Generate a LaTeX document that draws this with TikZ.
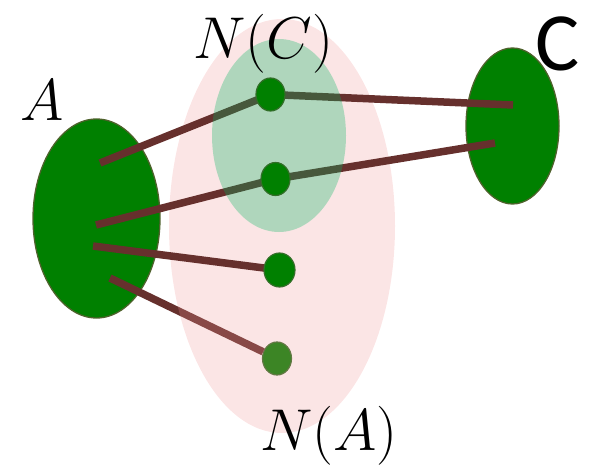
\RequirePackage{fix-cm}
\documentclass[tikz,border=0pt]{standalone}
\usepackage{fontspec}
\newfontfamily\labelfont{Carlito}
\usetikzlibrary{shapes.geometric}
\definecolor{setgreen}{RGB}{0,128,0}
\definecolor{setrim}{RGB}{78,98,44}
\definecolor{vertrim}{RGB}{50,110,40}
\definecolor{edgebrown}{RGB}{102,48,45}
\definecolor{nbpink}{RGB}{240,150,150}
\definecolor{nbgreen}{RGB}{0,183,97}
\tikzset{
  bigset/.style={ellipse, draw=setrim, line width=1.3pt, fill=setgreen, inner sep=0pt},
  vert/.style={ellipse, draw=vertrim, line width=1.2pt, fill=setgreen, minimum width=29pt, minimum height=33pt, inner sep=0pt},
  nbhd/.style={ellipse, inner sep=0pt},
  link/.style={draw=edgebrown, line width=7.5pt},
  setlabel/.style={inner sep=0pt, font=\fontsize{59}{59}\selectfont}
}

\begin{document}
\begin{tikzpicture}[x=1pt, y=-1pt]
\useasboundingbox (0,0) rectangle (593,470);
% the two sets
\node[bigset, minimum width=127pt, minimum height=199pt] (A) at (96.5,218.5) {};
\node[bigset, minimum width=93pt, minimum height=156pt] (C) at (512.5,126) {};
% where the edges leave the sets
\coordinate (a1) at (100,163);
\coordinate (a2) at (96,225);
\coordinate (a3) at (93,246);
\coordinate (a4) at (110,278);
\coordinate (c1) at (513,105);
\coordinate (c2) at (495,143);
\coordinate (p1) at (270.5,94.5);
\coordinate (p2) at (275.5,179);
\coordinate (p3) at (279.5,270);
% lowest vertex sits under the pink set
\node[vert] (v4) at (277,358.5) {};
\draw[link] (a4) -- (v4);
\node[nbhd, fill=nbpink, fill opacity=0.25, minimum width=226pt, minimum height=414pt] (NA) at (282,226) {};
\draw[link] (a1) -- (p1);
\draw[link] (a2) -- (p2);
\draw[link] (a3) -- (p3);
\draw[link] (p1) -- (c1);
\draw[link] (p2) -- (c2);
\node[nbhd, fill=nbgreen, fill opacity=0.3, minimum width=134pt, minimum height=193pt] (NC) at (279,135.5) {};
\node[vert] (v1) at (p1) {};
\node[vert] (v2) at (p2) {};
\node[vert, minimum width=31pt, minimum height=34pt] (v3) at (p3) {};
% labels
\node[setlabel] (lA) at (42,100) {$A$};
\node[setlabel] (lNC) at (263,44) {$N(C)$};
\node[setlabel] (lNA) at (329,436) {$N(A)$};
\node[inner sep=0pt, scale=1.15, transform shape, font=\labelfont\fontsize{72}{72}\selectfont] (lC) at (557.5,44) {C};
\end{tikzpicture}
\end{document}
